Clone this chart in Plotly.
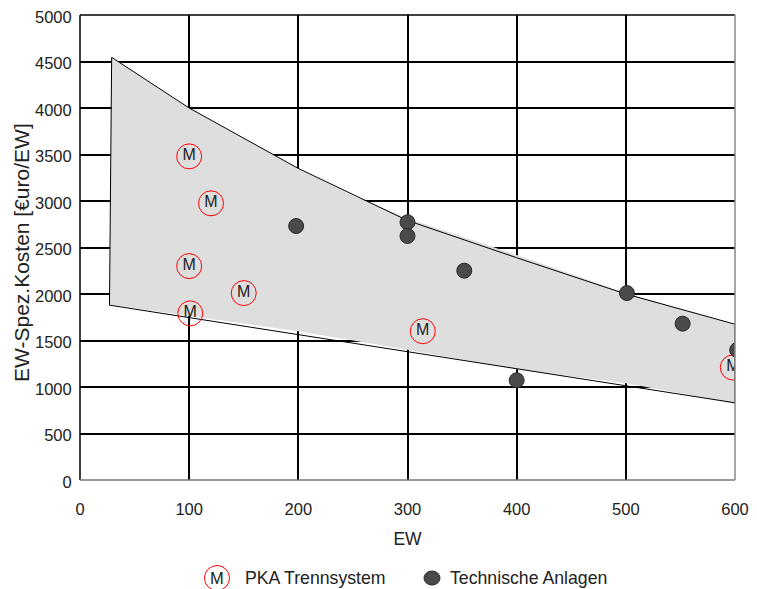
import plotly.graph_objects as go

# Envelope outline (upper curve, lower line)
upper_x = [29, 100, 200, 300, 400, 500, 600]
upper_y = [4545, 4000, 3350, 2790, 2390, 2000, 1675]
lower_x = [600, 27]
lower_y = [830, 1880]

# Shaded area (fill edges, slightly offset from the outline as in the original)
fill_upper_x = [29, 100, 200, 250, 300, 400, 500, 600]
fill_upper_y = [4545, 4000, 3350, 3060, 2815, 2420, 2010, 1675]
fill_lower_x = [604, 600, 560, 500, 400, 300, 200, 27]
fill_lower_y = [815, 815, 910, 1040, 1190, 1400, 1600, 1885]

# PKA Trennsystem
pka_x = [100, 120, 100, 150, 101, 314, 598]
pka_y = [3480, 2975, 2300, 2010, 1792, 1600, 1210]

# Technische Anlagen
tech_x = [198, 300, 300, 352, 501, 552, 602, 400]
tech_y = [2731, 2771, 2624, 2251, 2010, 1681, 1398, 1072]

x_ticks = [0, 100, 200, 300, 400, 500, 600]
y_ticks = [0, 500, 1000, 1500, 2000, 2500, 3000, 3500, 4000, 4500, 5000]

series_names = ["PKA Trennsystem", "Technische Anlagen"]
x_title = "EW"
y_title = "EW-Spez.Kosten [€uro/EW]"

FONT = "Liberation Sans, Arial, sans-serif"
TXT = "#222222"

# page has an 8px body margin: compensate so the plot area lands at 80..735 x 15..480
OFF = 8
W, H = 757 - OFF, 589 - OFF
ML, MR, MT, MB = 72, 22, 7, 109
PW = W - ML - MR   # 655
PH = H - MT - MB   # 465


def px_to_paper_x(sx):
    return (sx - OFF - ML) / PW


def px_to_paper_y(sy):
    return (H - MB - (sy - OFF)) / PH


fig = go.Figure()

fig.add_trace(go.Scatter(
    x=fill_upper_x + fill_lower_x + [fill_upper_x[0]],
    y=fill_upper_y + fill_lower_y + [fill_upper_y[0]],
    mode="lines", fill="toself", fillcolor="#dedede",
    line=dict(color="rgba(0,0,0,0)", width=0),
    showlegend=False, hoverinfo="skip"))

fig.add_trace(go.Scatter(
    x=upper_x + lower_x + [upper_x[0]],
    y=upper_y + lower_y + [upper_y[0]],
    mode="lines", line=dict(color="black", width=1),
    showlegend=False, hoverinfo="skip"))

fig.add_trace(go.Scatter(
    x=pka_x, y=pka_y, mode="markers+text", name=series_names[0],
    text=["M"] * len(pka_x), textposition="middle center",
    textfont=dict(family=FONT, size=16, color=TXT),
    marker=dict(symbol="circle", size=25, color="rgba(0,0,0,0)",
                line=dict(color="red", width=1)),
    showlegend=False))

fig.add_trace(go.Scatter(
    x=tech_x, y=tech_y, mode="markers", name=series_names[1],
    marker=dict(symbol="circle", size=15, color="#4a4a4a",
                line=dict(color="#2a2a2a", width=1)),
    showlegend=False))

# legend drawn manually (icons partially cut by the bottom edge as in the original)
leg_y = px_to_paper_y(578)
leg1_x = px_to_paper_x(217)
leg2_x = px_to_paper_x(432)

shapes = [
    dict(type="line", xref="paper", yref="paper", x0=0, x1=0, y0=0, y1=1,
         line=dict(color="black", width=1.5)),
    dict(type="line", xref="paper", yref="paper", x0=0, x1=1, y0=1, y1=1,
         line=dict(color="black", width=1.5)),
    dict(type="line", xref="paper", yref="paper", x0=1, x1=1, y0=0, y1=1,
         line=dict(color="#888888", width=1.5)),
    dict(type="line", xref="paper", yref="paper", x0=0, x1=1, y0=0, y1=0,
         line=dict(color="#777777", width=1.5)),
    dict(type="circle", xref="paper", yref="paper",
         xsizemode="pixel", ysizemode="pixel", xanchor=leg1_x, yanchor=leg_y,
         x0=-12.5, x1=12.5, y0=-12.5, y1=12.5,
         line=dict(color="red", width=1), fillcolor="rgba(0,0,0,0)"),
    dict(type="circle", xref="paper", yref="paper",
         xsizemode="pixel", ysizemode="pixel", xanchor=leg2_x, yanchor=leg_y,
         x0=-8, x1=8, y0=-7, y1=7,
         line=dict(color="#2a2a2a", width=1), fillcolor="#4a4a4a"),
]

annotations = [
    dict(xref="paper", yref="paper", x=leg1_x, y=leg_y, text="M", showarrow=False,
         xanchor="center", yanchor="middle", font=dict(size=16.5, color=TXT)),
    dict(xref="paper", yref="paper", x=px_to_paper_x(243), y=leg_y,
         text=series_names[0], showarrow=False, xanchor="left", yanchor="middle",
         font=dict(size=17.7, color=TXT)),
    dict(xref="paper", yref="paper", x=px_to_paper_x(448), y=leg_y,
         text=series_names[1], showarrow=False, xanchor="left", yanchor="middle",
         font=dict(size=17.7, color=TXT)),
    dict(xref="paper", yref="paper", x=px_to_paper_x(21), y=px_to_paper_y(253),
         text=y_title, showarrow=False, textangle=-90,
         xanchor="center", yanchor="middle", font=dict(size=21, color=TXT)),
]

fig.update_layout(
    width=W, height=H,
    margin=dict(l=ML, r=MR, t=MT, b=MB),
    paper_bgcolor="white", plot_bgcolor="white",
    font=dict(family=FONT, size=16.5, color=TXT),
    showlegend=False,
    xaxis=dict(range=[0, 600], tickvals=x_ticks, showgrid=True,
               gridcolor="black", gridwidth=1.5, zeroline=False,
               ticks="outside", ticklen=14, tickcolor="rgba(0,0,0,0)",
               title=dict(text=x_title, font=dict(size=17.5)), showline=False,
               automargin=False, ticklabeloverflow="allow"),
    yaxis=dict(range=[0, 5000], tickvals=y_ticks, showgrid=True,
               gridcolor="black", gridwidth=1.5, zeroline=False,
               ticks="outside", ticklen=4, tickcolor="rgba(0,0,0,0)",
               ticklabelshift=2,
               showline=False, automargin=False, ticklabeloverflow="allow"),
    shapes=shapes,
    annotations=annotations,
)

fig.write_html("out.html")
